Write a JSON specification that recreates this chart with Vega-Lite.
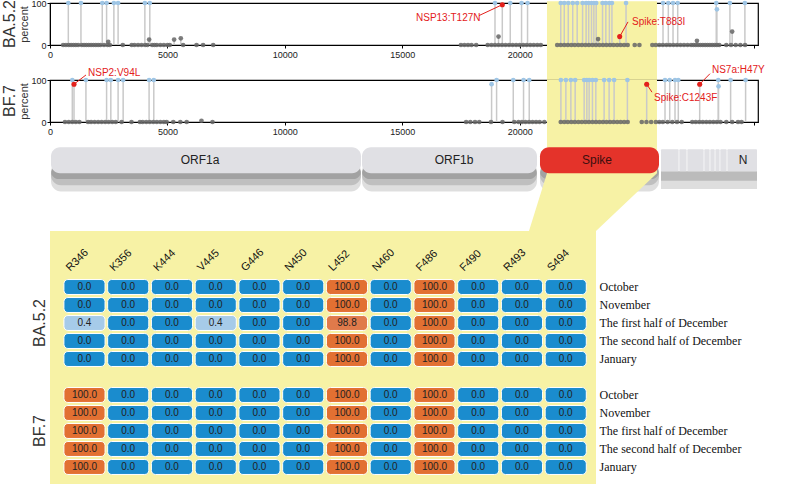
{
"$schema": "https://vega.github.io/schema/vega-lite/v6.json",
"background": "white",
"padding": {"left": 1, "top": -2, "right": 0, "bottom": 0},
"autosize": {"type": "pad"},
"bounds": "flush",
"spacing": 0,
"config": {
  "font": "Liberation Sans",
  "view": {"stroke": null},
  "axis": {"labelFont": "Liberation Sans", "labelFontSize": 9, "labelColor": "#222", "domainColor": "#000", "tickColor": "#000", "tickSize": 3, "grid": false, "titleFont": "Liberation Sans", "titleFontWeight": "normal", "titleColor": "#333", "zindex": 1}
},
"datasets": {
  "ba": [
    {"pos":780,"pct":100},{"pos":1318,"pct":100},{"pos":2225,"pct":100},{"pos":2410,"pct":100},{"pos":2720,"pct":100},{"pos":2900,"pct":100},{"pos":4040,"pct":100},{"pos":4250,"pct":100},
    {"pos":18950,"pct":100},{"pos":19600,"pct":100},{"pos":20081,"pct":100},{"pos":20336,"pct":100},{"pos":21750,"pct":100},{"pos":21900,"pct":100},{"pos":22070,"pct":100},{"pos":22260,"pct":100},{"pos":22450,"pct":100},{"pos":22680,"pct":100},{"pos":22830,"pct":100},{"pos":22940,"pct":100},{"pos":23060,"pct":100},{"pos":23160,"pct":100},{"pos":23260,"pct":100},{"pos":23530,"pct":100},{"pos":23670,"pct":100},{"pos":23820,"pct":100},{"pos":23930,"pct":100},{"pos":24530,"pct":100},
    {"pos":26105,"pct":100},{"pos":26331,"pct":100},{"pos":26531,"pct":100},{"pos":26731,"pct":100},{"pos":28372,"pct":100},{"pos":28400,"pct":85},{"pos":28954,"pct":100},{"pos":29592,"pct":100},
    {"pos":2480,"pct":7.5},{"pos":4222,"pct":13},{"pos":5286,"pct":13},{"pos":5570,"pct":16},{"pos":19100,"pct":20},{"pos":23340,"pct":14},{"pos":27550,"pct":10},{"pos":29050,"pct":32},
    {"pos":560,"pct":0},{"pos":680,"pct":0},{"pos":800,"pct":0},{"pos":900,"pct":0},{"pos":1000,"pct":0},{"pos":1100,"pct":0},{"pos":1200,"pct":0},{"pos":1350,"pct":0},{"pos":1450,"pct":0},{"pos":1550,"pct":0},{"pos":1650,"pct":0},{"pos":1750,"pct":0},{"pos":1850,"pct":0},{"pos":1950,"pct":0},{"pos":2050,"pct":0},{"pos":2150,"pct":0},{"pos":2300,"pct":0},{"pos":2450,"pct":0},{"pos":2550,"pct":0},{"pos":3100,"pct":0},{"pos":3480,"pct":0},{"pos":3600,"pct":0},{"pos":3750,"pct":0},{"pos":3900,"pct":0},{"pos":4050,"pct":0},{"pos":4150,"pct":0},{"pos":4350,"pct":0},{"pos":4450,"pct":0},{"pos":4550,"pct":0},{"pos":4700,"pct":0},{"pos":4850,"pct":0},{"pos":5000,"pct":0},{"pos":5100,"pct":0},{"pos":5670,"pct":0},{"pos":6240,"pct":0},{"pos":6520,"pct":0},{"pos":6950,"pct":0},
    {"pos":17500,"pct":0},{"pos":17650,"pct":0},{"pos":17800,"pct":0},{"pos":17950,"pct":0},{"pos":18150,"pct":0},{"pos":18640,"pct":0},{"pos":18800,"pct":0},{"pos":18950,"pct":0},{"pos":19100,"pct":0},{"pos":19250,"pct":0},{"pos":19400,"pct":0},{"pos":19550,"pct":0},{"pos":19700,"pct":0},{"pos":19850,"pct":0},{"pos":20000,"pct":0},{"pos":20150,"pct":0},{"pos":20300,"pct":0},{"pos":20450,"pct":0},{"pos":20600,"pct":0},{"pos":20750,"pct":0},{"pos":20900,"pct":0},
    {"pos":21600,"pct":0},{"pos":21750,"pct":0},{"pos":21900,"pct":0},{"pos":22050,"pct":0},{"pos":22200,"pct":0},{"pos":22350,"pct":0},{"pos":22500,"pct":0},{"pos":22650,"pct":0},{"pos":22800,"pct":0},{"pos":22950,"pct":0},{"pos":23100,"pct":0},{"pos":23250,"pct":0},{"pos":23400,"pct":0},{"pos":23550,"pct":0},{"pos":23700,"pct":0},{"pos":23850,"pct":0},{"pos":24000,"pct":0},{"pos":24150,"pct":0},{"pos":24300,"pct":0},{"pos":24450,"pct":0},{"pos":24600,"pct":0},{"pos":24900,"pct":0},{"pos":25100,"pct":0},
    {"pos":25650,"pct":0},{"pos":25800,"pct":0},{"pos":25950,"pct":0},{"pos":26100,"pct":0},{"pos":26250,"pct":0},{"pos":26400,"pct":0},{"pos":26550,"pct":0},{"pos":26700,"pct":0},{"pos":26850,"pct":0},{"pos":27000,"pct":0},{"pos":27150,"pct":0},{"pos":27300,"pct":0},{"pos":27400,"pct":0},{"pos":27500,"pct":0},{"pos":27600,"pct":0},{"pos":27700,"pct":0},{"pos":27800,"pct":0},{"pos":27900,"pct":0},{"pos":28000,"pct":0},{"pos":28100,"pct":0},{"pos":28200,"pct":0},{"pos":28300,"pct":0},{"pos":28400,"pct":0},{"pos":28500,"pct":0},{"pos":28800,"pct":0},{"pos":29000,"pct":0},{"pos":29200,"pct":0},{"pos":29400,"pct":0},{"pos":29600,"pct":0}
  ],
  "bf": [
    {"pos":950,"pct":100},{"pos":1530,"pct":100},{"pos":2410,"pct":100},{"pos":2590,"pct":100},{"pos":2900,"pct":100},{"pos":3115,"pct":100},{"pos":4220,"pct":100},{"pos":4420,"pct":100},
    {"pos":18805,"pct":90},{"pos":19018,"pct":100},{"pos":19728,"pct":100},{"pos":20166,"pct":100},{"pos":20408,"pct":100},{"pos":21756,"pct":100},{"pos":21968,"pct":100},{"pos":22181,"pct":100},{"pos":22364,"pct":100},{"pos":22747,"pct":100},{"pos":22861,"pct":100},{"pos":22959,"pct":100},{"pos":23100,"pct":100},{"pos":23244,"pct":100},{"pos":23597,"pct":100},{"pos":23810,"pct":100},{"pos":24022,"pct":100},{"pos":24588,"pct":100},
    {"pos":26190,"pct":100},{"pos":26390,"pct":100},{"pos":26616,"pct":100},{"pos":26756,"pct":100},{"pos":28457,"pct":100},{"pos":28470,"pct":85},{"pos":28984,"pct":100},{"pos":29622,"pct":100},
    {"pos":6450,"pct":3},
    {"pos":640,"pct":0},{"pos":800,"pct":0},{"pos":950,"pct":0},{"pos":1100,"pct":0},{"pos":1250,"pct":0},{"pos":1620,"pct":0},{"pos":1750,"pct":0},{"pos":1900,"pct":0},{"pos":2050,"pct":0},{"pos":2200,"pct":0},{"pos":2350,"pct":0},{"pos":2500,"pct":0},{"pos":2650,"pct":0},{"pos":2800,"pct":0},{"pos":3050,"pct":0},{"pos":3470,"pct":0},{"pos":3830,"pct":0},{"pos":3950,"pct":0},{"pos":4100,"pct":0},{"pos":4250,"pct":0},{"pos":4400,"pct":0},{"pos":4550,"pct":0},{"pos":4700,"pct":0},{"pos":4850,"pct":0},{"pos":4970,"pct":0},{"pos":5250,"pct":0},{"pos":5550,"pct":0},{"pos":5820,"pct":0},{"pos":6920,"pct":0},
    {"pos":17720,"pct":0},{"pos":17900,"pct":0},{"pos":18100,"pct":0},{"pos":18280,"pct":0},{"pos":18780,"pct":0},{"pos":19270,"pct":0},{"pos":19770,"pct":0},{"pos":19950,"pct":0},{"pos":20100,"pct":0},{"pos":20250,"pct":0},{"pos":20400,"pct":0},{"pos":20550,"pct":0},{"pos":20700,"pct":0},{"pos":20850,"pct":0},{"pos":21050,"pct":0},
    {"pos":21750,"pct":0},{"pos":21900,"pct":0},{"pos":22050,"pct":0},{"pos":22200,"pct":0},{"pos":22350,"pct":0},{"pos":22500,"pct":0},{"pos":22650,"pct":0},{"pos":22800,"pct":0},{"pos":22950,"pct":0},{"pos":23100,"pct":0},{"pos":23250,"pct":0},{"pos":23400,"pct":0},{"pos":23550,"pct":0},{"pos":23700,"pct":0},{"pos":23850,"pct":0},{"pos":24000,"pct":0},{"pos":24150,"pct":0},{"pos":24300,"pct":0},{"pos":24450,"pct":0},{"pos":24600,"pct":0},
    {"pos":25200,"pct":0},{"pos":25400,"pct":0},{"pos":25600,"pct":0},{"pos":25800,"pct":0},{"pos":25950,"pct":0},{"pos":26100,"pct":0},{"pos":26300,"pct":0},{"pos":26500,"pct":0},{"pos":26700,"pct":0},{"pos":26900,"pct":0},{"pos":27350,"pct":0},{"pos":27500,"pct":0},{"pos":27650,"pct":0},{"pos":27800,"pct":0},{"pos":27950,"pct":0},{"pos":28100,"pct":0},{"pos":28250,"pct":0},{"pos":28400,"pct":0},{"pos":28550,"pct":0},{"pos":28800,"pct":0},{"pos":29050,"pct":0},{"pos":29300,"pct":0},{"pos":29450,"pct":0}
  ],
  "annBA": [
    {"label":"NSP13:T127N","pos":19261,"pct":96,"tx":15586,"ty":65,"ax":18268,"ay":70},
    {"label":"Spike:T883I","pos":24260,"pct":20,"tx":24785,"ty":55,"ax":24614,"ay":55}
  ],
  "annBF": [
    {"label":"NSP2:V94L","pos":1022,"pct":90,"tx":1618,"ty":117,"ax":1533,"ay":112},
    {"label":"Spike:C1243F","pos":25410,"pct":90,"tx":25720,"ty":58,"ax":25635,"ay":71},
    {"label":"NS7a:H47Y","pos":27667,"pct":90,"tx":28190,"ty":124,"ax":28105,"ay":115}
  ],
  "band": [{"a":21164,"b":25848}],
  "genes": [
    {"gene":"ORF1a","start":43,"end":13244,"lx":6388},
    {"gene":"ORF1b","start":13286,"end":20738,"lx":17204},
    {"gene":"Spike","start":20866,"end":25934,"lx":23293}
  ],
  "acc": [
    {"gene":"ORF3a","start":26019,"end":26770},
    {"gene":"E","start":26800,"end":27110},
    {"gene":"M","start":27140,"end":27835},
    {"gene":"ORF6","start":27865,"end":28090},
    {"gene":"ORF7a","start":28120,"end":28305},
    {"gene":"ORF7b","start":28335,"end":28515},
    {"gene":"ORF8","start":28545,"end":28815},
    {"gene":"N","start":28845,"end":30107}
  ],
  "accspan": [{"start":26019,"end":30107}],
  "funnel": [
    {"y":10,"a":21164,"b":25848},
    {"y":6.9,"a":21164,"b":25848},
    {"y":0,"a":20398,"b":23251}
  ],
  "heat": [
    {"row":"BA.5.2|October","R346":0,"K356":0,"K444":0,"V445":0,"G446":0,"N450":0,"L452":100,"N460":0,"F486":100,"F490":0,"R493":0,"S494":0},
    {"row":"BA.5.2|November","R346":0,"K356":0,"K444":0,"V445":0,"G446":0,"N450":0,"L452":100,"N460":0,"F486":100,"F490":0,"R493":0,"S494":0},
    {"row":"BA.5.2|The first half of December","R346":0.4,"K356":0,"K444":0,"V445":0.4,"G446":0,"N450":0,"L452":98.8,"N460":0,"F486":100,"F490":0,"R493":0,"S494":0},
    {"row":"BA.5.2|The second half of December","R346":0,"K356":0,"K444":0,"V445":0,"G446":0,"N450":0,"L452":100,"N460":0,"F486":100,"F490":0,"R493":0,"S494":0},
    {"row":"BA.5.2|January","R346":0,"K356":0,"K444":0,"V445":0,"G446":0,"N450":0,"L452":100,"N460":0,"F486":100,"F490":0,"R493":0,"S494":0},
    {"row":"BF.7|October","R346":100,"K356":0,"K444":0,"V445":0,"G446":0,"N450":0,"L452":100,"N460":0,"F486":100,"F490":0,"R493":0,"S494":0},
    {"row":"BF.7|November","R346":100,"K356":0,"K444":0,"V445":0,"G446":0,"N450":0,"L452":100,"N460":0,"F486":100,"F490":0,"R493":0,"S494":0},
    {"row":"BF.7|The first half of December","R346":100,"K356":0,"K444":0,"V445":0,"G446":0,"N450":0,"L452":100,"N460":0,"F486":100,"F490":0,"R493":0,"S494":0},
    {"row":"BF.7|The second half of December","R346":100,"K356":0,"K444":0,"V445":0,"G446":0,"N450":0,"L452":100,"N460":0,"F486":100,"F490":0,"R493":0,"S494":0},
    {"row":"BF.7|January","R346":100,"K356":0,"K444":0,"V445":0,"G446":0,"N450":0,"L452":100,"N460":0,"F486":100,"F490":0,"R493":0,"S494":0}
  ]
},
"vconcat": [
  {
    "width": 708, "height": 42,
    "view": {"stroke": "#000", "strokeWidth": 1.2},
    "title": {"text": "BA.5.2", "orient": "left", "anchor": "middle", "fontSize": 16, "fontWeight": "normal", "color": "#333", "offset": 1},
    "layer": [
      {"data": {"name": "band"}, "mark": {"type": "rect", "color": "#f7f2a5"},
       "encoding": {
         "x": {"field": "a", "type": "quantitative", "scale": {"domain": [0, 30150], "nice": false, "zero": false}, "axis": {"values": [0,5000,10000,15000,20000,25000,30000], "format": "d", "labelExpr": "datum.value == 30000 ? '' : datum.label", "title": null, "labelPadding": 2, "labelFlush": false}},
         "x2": {"field": "b"},
         "y": {"datum": 104, "type": "quantitative", "scale": {"domain": [0, 100], "nice": false, "zero": false}, "axis": {"values": [0, 100], "title": "percent", "titleFontSize": 11, "titlePadding": 1, "labelPadding": 1}},
         "y2": {"datum": -84}}},
      {"data": {"name": "ba"}, "mark": {"type": "rule", "color": "#c9c9c9", "strokeWidth": 1.5},
       "encoding": {"x": {"field": "pos", "type": "quantitative", "scale": {"domain": [0, 30150], "nice": false, "zero": false}}, "y": {"field": "pct", "type": "quantitative", "scale": {"domain": [0, 100], "nice": false, "zero": false}}, "y2": {"datum": 0}}},
      {"data": {"name": "annBA"}, "mark": {"type": "rule", "color": "#c9c9c9", "strokeWidth": 1.5},
       "encoding": {"x": {"field": "pos", "type": "quantitative", "scale": {"domain": [0, 30150], "nice": false, "zero": false}}, "y": {"field": "pct", "type": "quantitative", "scale": {"domain": [0, 100], "nice": false, "zero": false}}, "y2": {"datum": 0}}},
      {"data": {"name": "ba"}, "mark": {"type": "circle", "size": 22},
       "encoding": {"x": {"field": "pos", "type": "quantitative", "scale": {"domain": [0, 30150], "nice": false, "zero": false}}, "y": {"field": "pct", "type": "quantitative", "scale": {"domain": [0, 100], "nice": false, "zero": false}},
         "color": {"condition": {"test": "datum.pct >= 50", "value": "#9ec5e5"}, "value": "#666666"},
         "opacity": {"condition": {"test": "datum.pct >= 50", "value": 1}, "value": 0.85}}},
      {"data": {"name": "annBA"}, "mark": {"type": "rule", "color": "#e3201b", "strokeWidth": 1},
       "encoding": {"x": {"field": "ax", "type": "quantitative", "scale": {"domain": [0, 30150], "nice": false, "zero": false}}, "y": {"field": "ay", "type": "quantitative", "scale": {"domain": [0, 100], "nice": false, "zero": false}}, "x2": {"field": "pos"}, "y2": {"field": "pct"}}},
      {"data": {"name": "annBA"}, "mark": {"type": "circle", "size": 26, "color": "#e3201b", "opacity": 1},
       "encoding": {"x": {"field": "pos", "type": "quantitative", "scale": {"domain": [0, 30150], "nice": false, "zero": false}}, "y": {"field": "pct", "type": "quantitative", "scale": {"domain": [0, 100], "nice": false, "zero": false}}}},
      {"data": {"name": "annBA"}, "mark": {"type": "text", "align": "left", "baseline": "middle", "fontSize": 10, "color": "#e3201b"},
       "encoding": {"x": {"field": "tx", "type": "quantitative", "scale": {"domain": [0, 30150], "nice": false, "zero": false}}, "y": {"field": "ty", "type": "quantitative", "scale": {"domain": [0, 100], "nice": false, "zero": false}}, "text": {"field": "label"}}}
    ]
  },
  {
    "width": 708, "height": 35,
    "data": {"values": []},
    "mark": {"type": "point", "opacity": 0}
  },
  {
    "width": 708, "height": 42,
    "view": {"stroke": "#000", "strokeWidth": 1.2},
    "title": {"text": "BF.7", "orient": "left", "anchor": "middle", "fontSize": 16, "fontWeight": "normal", "color": "#333", "offset": 1},
    "layer": [
      {"data": {"name": "band"}, "mark": {"type": "rect", "color": "#f7f2a5"},
       "encoding": {
         "x": {"field": "a", "type": "quantitative", "scale": {"domain": [0, 30150], "nice": false, "zero": false}, "axis": {"values": [0,5000,10000,15000,20000,25000,30000], "format": "d", "labelExpr": "datum.value == 30000 ? '' : datum.label", "title": null, "labelPadding": 2, "labelFlush": false}},
         "x2": {"field": "b"},
         "y": {"datum": 101, "type": "quantitative", "scale": {"domain": [0, 100], "nice": false, "zero": false}, "axis": {"values": [0, 100], "title": "percent", "titleFontSize": 11, "titlePadding": 1, "labelPadding": 1}},
         "y2": {"datum": -61}}},
      {"data": {"name": "bf"}, "mark": {"type": "rule", "color": "#c9c9c9", "strokeWidth": 1.5},
       "encoding": {"x": {"field": "pos", "type": "quantitative", "scale": {"domain": [0, 30150], "nice": false, "zero": false}}, "y": {"field": "pct", "type": "quantitative", "scale": {"domain": [0, 100], "nice": false, "zero": false}}, "y2": {"datum": 0}}},
      {"data": {"name": "annBF"}, "mark": {"type": "rule", "color": "#c9c9c9", "strokeWidth": 1.5},
       "encoding": {"x": {"field": "pos", "type": "quantitative", "scale": {"domain": [0, 30150], "nice": false, "zero": false}}, "y": {"field": "pct", "type": "quantitative", "scale": {"domain": [0, 100], "nice": false, "zero": false}}, "y2": {"datum": 0}}},
      {"data": {"name": "bf"}, "mark": {"type": "circle", "size": 22},
       "encoding": {"x": {"field": "pos", "type": "quantitative", "scale": {"domain": [0, 30150], "nice": false, "zero": false}}, "y": {"field": "pct", "type": "quantitative", "scale": {"domain": [0, 100], "nice": false, "zero": false}},
         "color": {"condition": {"test": "datum.pct >= 50", "value": "#9ec5e5"}, "value": "#666666"},
         "opacity": {"condition": {"test": "datum.pct >= 50", "value": 1}, "value": 0.85}}},
      {"data": {"name": "annBF"}, "mark": {"type": "rule", "color": "#e3201b", "strokeWidth": 1},
       "encoding": {"x": {"field": "ax", "type": "quantitative", "scale": {"domain": [0, 30150], "nice": false, "zero": false}}, "y": {"field": "ay", "type": "quantitative", "scale": {"domain": [0, 100], "nice": false, "zero": false}}, "x2": {"field": "pos"}, "y2": {"field": "pct"}}},
      {"data": {"name": "annBF"}, "mark": {"type": "circle", "size": 26, "color": "#e3201b", "opacity": 1},
       "encoding": {"x": {"field": "pos", "type": "quantitative", "scale": {"domain": [0, 30150], "nice": false, "zero": false}}, "y": {"field": "pct", "type": "quantitative", "scale": {"domain": [0, 100], "nice": false, "zero": false}}}},
      {"data": {"name": "annBF"}, "mark": {"type": "text", "align": "left", "baseline": "middle", "fontSize": 10, "color": "#e3201b"},
       "encoding": {"x": {"field": "tx", "type": "quantitative", "scale": {"domain": [0, 30150], "nice": false, "zero": false}}, "y": {"field": "ty", "type": "quantitative", "scale": {"domain": [0, 100], "nice": false, "zero": false}}, "text": {"field": "label"}}}
    ]
  },
  {
    "width": 708, "height": 109,
    "layer": [
      {"data": {"name": "genes"}, "mark": {"type": "rect", "color": "#333", "opacity": 0.16, "cornerRadius": 10},
       "encoding": {"x": {"field": "start", "type": "quantitative", "scale": {"domain": [0, 30150], "nice": false, "zero": false}, "axis": null}, "x2": {"field": "end"}, "y": {"datum": 8.0, "type": "quantitative", "scale": {"domain": [0, 13], "nice": false, "zero": false}, "axis": null}, "y2": {"datum": 4.7}}},
      {"data": {"name": "genes"}, "mark": {"type": "rect", "color": "#333", "opacity": 0.18, "cornerRadius": 10},
       "encoding": {"x": {"field": "start", "type": "quantitative", "scale": {"domain": [0, 30150], "nice": false, "zero": false}, "axis": null}, "x2": {"field": "end"}, "y": {"datum": 8.0, "type": "quantitative", "scale": {"domain": [0, 13], "nice": false, "zero": false}, "axis": null}, "y2": {"datum": 5.45}}},
      {"data": {"name": "genes"}, "mark": {"type": "rect", "color": "#333", "opacity": 0.2, "cornerRadius": 10},
       "encoding": {"x": {"field": "start", "type": "quantitative", "scale": {"domain": [0, 30150], "nice": false, "zero": false}, "axis": null}, "x2": {"field": "end"}, "y": {"datum": 8.0, "type": "quantitative", "scale": {"domain": [0, 13], "nice": false, "zero": false}, "axis": null}, "y2": {"datum": 6.2}}},
      {"data": {"name": "accspan"}, "mark": {"type": "rect", "color": "#333", "opacity": 0.16},
       "encoding": {"x": {"field": "start", "type": "quantitative", "scale": {"domain": [0, 30150], "nice": false, "zero": false}, "axis": null}, "x2": {"field": "end"}, "y": {"datum": 7.14, "type": "quantitative", "scale": {"domain": [0, 13], "nice": false, "zero": false}, "axis": null}, "y2": {"datum": 5.0}}},
      {"data": {"name": "accspan"}, "mark": {"type": "rect", "color": "#333", "opacity": 0.2},
       "encoding": {"x": {"field": "start", "type": "quantitative", "scale": {"domain": [0, 30150], "nice": false, "zero": false}, "axis": null}, "x2": {"field": "end"}, "y": {"datum": 7.14, "type": "quantitative", "scale": {"domain": [0, 13], "nice": false, "zero": false}, "axis": null}, "y2": {"datum": 6.0}}},
      {"data": {"name": "funnel"}, "mark": {"type": "area", "orient": "horizontal", "color": "#f7f2a5", "opacity": 1},
       "encoding": {"x": {"field": "a", "type": "quantitative", "scale": {"domain": [0, 30150], "nice": false, "zero": false}, "axis": null}, "x2": {"field": "b"}, "y": {"field": "y", "type": "quantitative", "scale": {"domain": [0, 13], "nice": false, "zero": false}, "axis": null}}},
      {"data": {"name": "genes"}, "mark": {"type": "rect", "cornerRadius": 9},
       "encoding": {"x": {"field": "start", "type": "quantitative", "scale": {"domain": [0, 30150], "nice": false, "zero": false}, "axis": null}, "x2": {"field": "end"}, "y": {"datum": 10, "type": "quantitative", "scale": {"domain": [0, 13], "nice": false, "zero": false}, "axis": null}, "y2": {"datum": 6.9},
         "color": {"condition": {"test": "datum.gene == 'Spike'", "value": "#e4332a"}, "value": "#e0e0e4"}}},
      {"data": {"name": "acc"}, "mark": {"type": "rect", "color": "#e0e0e4", "cornerRadius": 1},
       "encoding": {"x": {"field": "start", "type": "quantitative", "scale": {"domain": [0, 30150], "nice": false, "zero": false}, "axis": null}, "x2": {"field": "end"}, "y": {"datum": 9.76, "type": "quantitative", "scale": {"domain": [0, 13], "nice": false, "zero": false}, "axis": null}, "y2": {"datum": 7.14}}},
      {"data": {"name": "genes"}, "mark": {"type": "text", "fontSize": 12, "baseline": "middle"},
       "encoding": {"x": {"field": "lx", "type": "quantitative", "scale": {"domain": [0, 30150], "nice": false, "zero": false}, "axis": null}, "y": {"datum": 8.47, "type": "quantitative", "scale": {"domain": [0, 13], "nice": false, "zero": false}, "axis": null}, "text": {"field": "gene"},
         "color": {"condition": {"test": "datum.gene == 'Spike'", "value": "#3d0f0f"}, "value": "#222"}}},
      {"data": {"name": "acc"}, "transform": [{"filter": "datum.gene == 'N'"}], "mark": {"type": "text", "fontSize": 12, "baseline": "middle", "color": "#222", "xOffset": -14},
       "encoding": {"x": {"field": "end", "type": "quantitative", "scale": {"domain": [0, 30150], "nice": false, "zero": false}, "axis": null}, "y": {"datum": 8.47, "type": "quantitative", "scale": {"domain": [0, 13], "nice": false, "zero": false}, "axis": null}, "text": {"field": "gene"}}}
    ]
  },
  {
    "width": 546, "height": 254,
    "view": {"fill": "#f7f2a5", "stroke": null},
    "data": {"name": "heat"},
    "transform": [{"fold": ["R346","K356","K444","V445","G446","N450","L452","N460","F486","F490","R493","S494"], "as": ["site", "value"]}],
    "layer": [
      {"mark": {"type": "rect", "width": {"band": 0.94}, "height": {"band": 0.83}, "cornerRadius": 4, "stroke": "#ffffff", "strokeWidth": 1},
       "encoding": {
         "x": {"field": "site", "type": "nominal", "sort": null, "scale": {"type": "band", "domain": ["R346","K356","K444","V445","G446","N450","L452","N460","F486","F490","R493","S494"], "paddingInner": 0, "paddingOuter": 0.24, "align": 0.6}, "axis": null},
         "y": {"field": "row", "type": "nominal", "scale": {"type": "band", "domain": ["h1","h2","BA.5.2|October","BA.5.2|November","BA.5.2|The first half of December","BA.5.2|The second half of December","BA.5.2|January","gap","BF.7|October","BF.7|November","BF.7|The first half of December","BF.7|The second half of December","BF.7|January"], "paddingInner": 0, "paddingOuter": 0.556, "align": 0.55},
           "axis": {"orient": "left", "title": null, "ticks": false, "domain": false, "labelExpr": "datum.value == 'BA.5.2|The first half of December' ? 'BA.5.2' : (datum.value == 'BF.7|The first half of December' ? 'BF.7' : '')", "labelAngle": 270, "labelAlign": "center", "labelBaseline": "bottom", "labelFontSize": 16, "labelColor": "#333", "labelPadding": 3, "labelOverlap": false, "labelBound": false}},
         "color": {"field": "value", "type": "ordinal", "scale": {"domain": [0, 0.4, 98.8, 100], "range": ["#1a8cce", "#a6cbe9", "#e07a4b", "#e27032"]}, "legend": null}}},
      {"mark": {"type": "text", "fontSize": 10, "color": "#222", "baseline": "middle"},
       "encoding": {
         "x": {"field": "site", "type": "nominal", "sort": null, "scale": {"type": "band", "domain": ["R346","K356","K444","V445","G446","N450","L452","N460","F486","F490","R493","S494"], "paddingInner": 0, "paddingOuter": 0.24, "align": 0.6}, "axis": null},
         "y": {"field": "row", "type": "nominal", "scale": {"type": "band", "domain": ["h1","h2","BA.5.2|October","BA.5.2|November","BA.5.2|The first half of December","BA.5.2|The second half of December","BA.5.2|January","gap","BF.7|October","BF.7|November","BF.7|The first half of December","BF.7|The second half of December","BF.7|January"], "paddingInner": 0, "paddingOuter": 0.556, "align": 0.55},
           "axis": {"orient": "right", "title": null, "ticks": false, "domain": false, "labelExpr": "indexof(datum.value, '|') > 0 ? split(datum.value, '|')[1] : ''", "labelFont": "Liberation Serif", "labelFontSize": 12, "labelColor": "#111", "labelPadding": 3, "labelAlign": "left", "labelOverlap": false}},
         "text": {"field": "value", "type": "quantitative", "format": ".1f"}}},
      {"transform": [{"filter": "datum.row == 'BA.5.2|October'"}],
       "mark": {"type": "text", "angle": 315, "align": "left", "baseline": "middle", "dx": -12, "dy": -11, "fontSize": 11, "color": "#111"},
       "encoding": {
         "x": {"field": "site", "type": "nominal", "sort": null, "scale": {"type": "band", "domain": ["R346","K356","K444","V445","G446","N450","L452","N460","F486","F490","R493","S494"], "paddingInner": 0, "paddingOuter": 0.24, "align": 0.6}, "axis": null},
         "y": {"datum": "h2", "type": "nominal", "scale": {"type": "band", "domain": ["h1","h2","BA.5.2|October","BA.5.2|November","BA.5.2|The first half of December","BA.5.2|The second half of December","BA.5.2|January","gap","BF.7|October","BF.7|November","BF.7|The first half of December","BF.7|The second half of December","BF.7|January"], "paddingInner": 0, "paddingOuter": 0.556, "align": 0.55}, "axis": null},
         "text": {"field": "site"}}}
    ],
    "resolve": {"scale": {"y": "independent"}, "axis": {"y": "independent"}}
  }
]
}
